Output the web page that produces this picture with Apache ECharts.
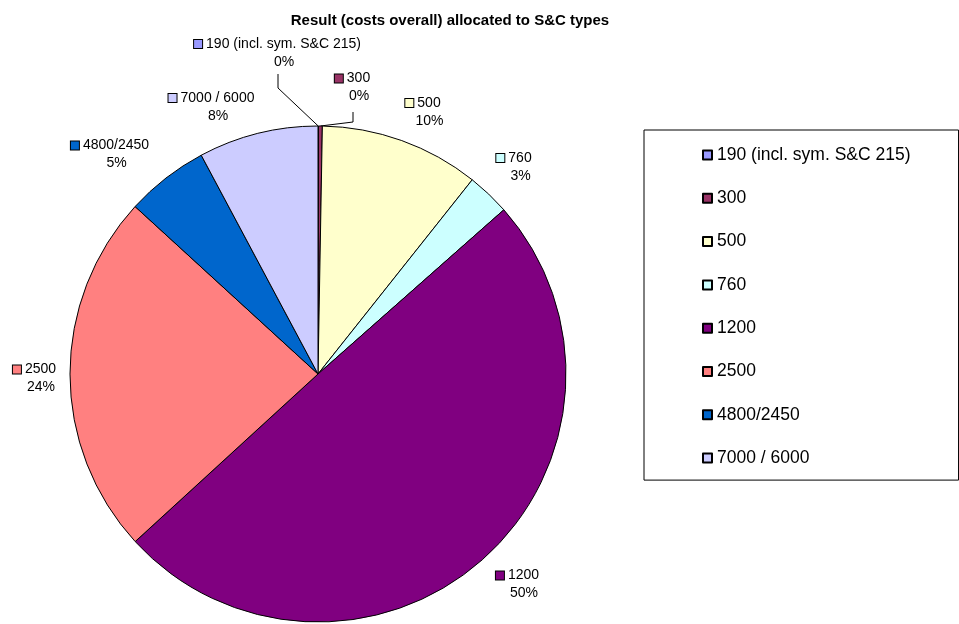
<!DOCTYPE html>
<html>
<head>
<meta charset="utf-8">
<script src="https://cdn.jsdelivr.net/npm/echarts@6/dist/echarts.min.js"></script>
<style>
  html, body { margin: 0; padding: 0; background: #fff; }
  #chart { width: 959px; height: 624px; }
</style>
</head>
<body>
<div id="chart"></div>
<script>
// S&C types and their share of overall cost
const categories = ['190 (incl. sym. S&C 215)', '300', '500', '760', '1200', '2500', '4800/2450', '7000 / 6000'];
const shares = [0.03, 0.25, 10.4, 2.8, 49.7, 23.6, 5.4, 7.8];
const colors = ['#9999FF', '#993366', '#FFFFCC', '#CCFFFF', '#800080', '#FF8080', '#0066CC', '#CCCCFF'];

const FONT = 'Liberation Sans, Arial, Helvetica, sans-serif';

// Label block centres around the pie (x, y)
const labelPos = [
  [277.5, 53], [352.5, 87.5], [423, 112], [514, 167],
  [517.5, 584.5], [34.5, 378.5], [110, 154.5], [211.5, 107]
];
// Elbow and end of the leader lines for the labels that sit away from their slice
const leaderBends = {
  0: [[278, 88], [278, 74]],
  1: [[353, 122], [353, 112]]
};

const rich = {
  n: { fontSize: 14, lineHeight: 18, padding: [0, 0, 0, 4], align: 'center', color: '#000', fontFamily: FONT },
  p: { fontSize: 14, lineHeight: 18, padding: [0, 0, 0, 13], align: 'center', color: '#000', fontFamily: FONT }
};
colors.forEach((c, i) => {
  rich['sq' + i] = { width: 8, height: 8, backgroundColor: c, borderColor: '#000', borderWidth: 1, align: 'center' };
});

const data = categories.map((name, i) => ({
  name: name,
  value: shares[i],
  itemStyle: { color: colors[i] },
  labelLine: { show: leaderBends[i] !== undefined }
}));

const chart = echarts.init(document.getElementById('chart'), null, { renderer: 'canvas' });
chart.setOption({
  backgroundColor: '#fff',
  animation: false,
  title: {
    text: 'Result (costs overall) allocated to S&C types',
    left: 445,
    top: 8,
    textAlign: 'center',
    textStyle: { fontSize: 15, fontWeight: 'bold', color: '#000', fontFamily: FONT }
  },
  legend: {
    orient: 'vertical',
    left: 644,
    top: 130,
    padding: [16, 48, 13, 58],
    itemGap: 25.3,
    itemWidth: 9,
    itemHeight: 9,
    icon: 'rect',
    borderColor: '#000',
    borderWidth: 1,
    borderRadius: 0,
    textStyle: { fontSize: 17.5, color: '#000', fontFamily: FONT },
    data: categories
  },
  series: [{
    type: 'pie',
    center: [318, 374],
    radius: 248,
    startAngle: 90,
    clockwise: true,
    avoidLabelOverlap: false,
    itemStyle: { borderColor: '#000', borderWidth: 1 },
    emphasis: { disabled: true },
    label: {
      show: true,
      position: 'outside',
      formatter: p => '{sq' + p.dataIndex + '|}{n|' + p.name + '}\n{p|' + Math.round(p.percent) + '%}',
      rich: rich
    },
    labelLine: { show: false, lineStyle: { color: '#000', width: 1 }, length: 10, length2: 10 },
    labelLayout: params => {
      const i = params.dataIndex;
      const out = { x: labelPos[i][0], y: labelPos[i][1], align: 'center', verticalAlign: 'middle' };
      if (leaderBends[i] && params.labelLinePoints) {
        out.labelLinePoints = [params.labelLinePoints[0]].concat(leaderBends[i]);
      }
      return out;
    },
    data: data
  }]
});
</script>
</body>
</html>
